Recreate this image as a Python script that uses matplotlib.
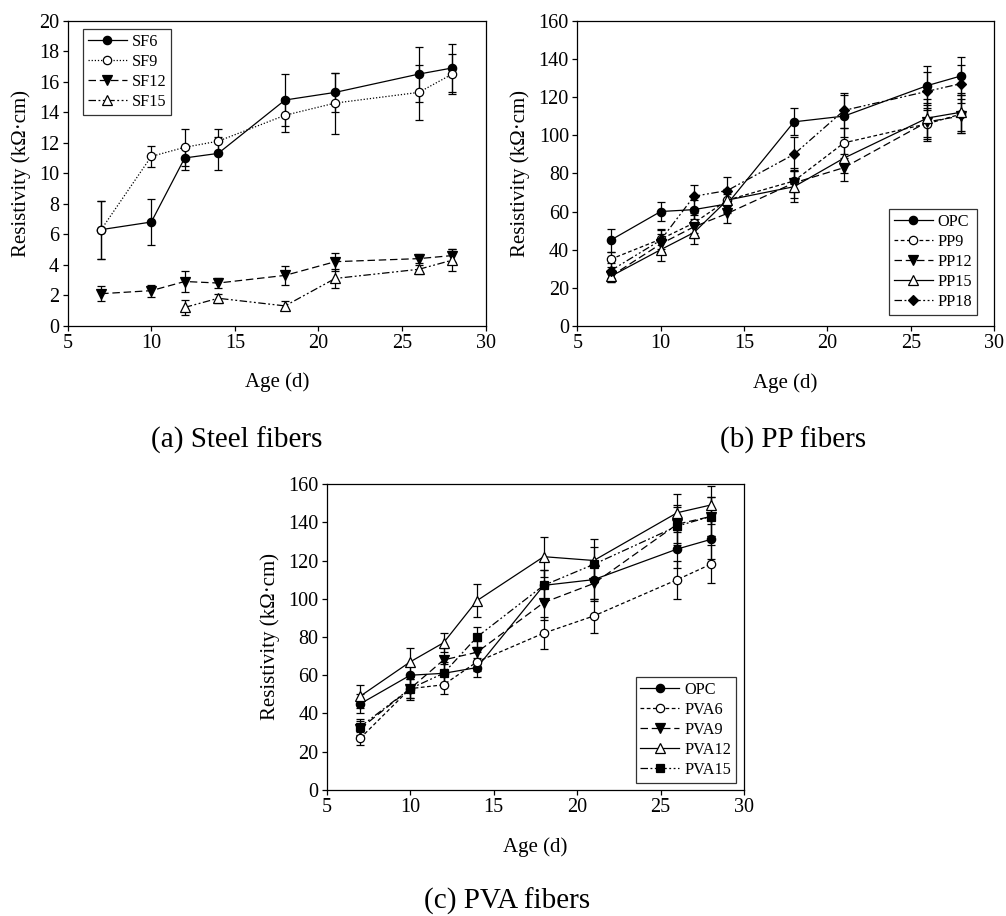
import matplotlib
matplotlib.use('Agg')
import matplotlib.pyplot as plt

plt.rcParams['font.family'] = ['Liberation Serif', 'DejaVu Serif']

# ---------------- data ----------------
ages = [7, 10, 12, 14, 18, 21, 26, 28]
sf15_ages = [12, 14, 18, 21, 26, 28]

# (a) steel fibers
sf6 = [6.3, 6.8, 11.0, 11.3, 14.8, 15.3, 16.5, 16.9]
sf6_err = [1.9, 1.5, 0.8, 1.1, 1.7, 1.3, 1.8, 1.6]
sf9 = [6.3, 11.1, 11.7, 12.1, 13.8, 14.6, 15.3, 16.5]
sf9_err = [1.9, 0.7, 1.2, 0.8, 1.1, 2.0, 1.8, 1.3]
sf12 = [2.1, 2.3, 2.9, 2.8, 3.3, 4.2, 4.4, 4.6]
sf12_err = [0.5, 0.4, 0.7, 0.3, 0.6, 0.6, 0.3, 0.4]
sf15 = [1.2, 1.8, 1.3, 3.1, 3.7, 4.3]
sf15_err = [0.5, 0.3, 0.3, 0.65, 0.3, 0.7]

# (b) PP fibers
opc = [45, 60, 61, 64, 107, 110, 126, 131]
opc_err = [6, 5, 5, 5, 7, 11, 10, 10]
pp9 = [35, 45.5, 54, 66, 76, 96, 106, 111]
pp9_err = [4, 5, 5, 5, 6, 8, 8, 10]
pp12 = [26, 43, 52, 59, 75, 83, 107, 110]
pp12_err = [3, 5, 6, 5, 8, 7, 10, 9]
pp15 = [26, 40, 49, 66, 73, 88, 109, 112]
pp15_err = [3, 6, 6, 6, 8, 8, 10, 10]
pp18 = [29, 45, 68, 71, 90, 113, 123, 127]
pp18_err = [4, 6, 6, 7, 9, 9, 10, 10]

# (c) PVA fibers
opc_c_err = [5, 5, 5, 5, 8, 10, 10, 10]
pva6 = [27, 53, 55, 67, 82, 91, 110, 118]
pva6_err = [3.5, 5, 5, 5, 8.5, 9, 10, 10]
pva9 = [32, 53, 68, 72, 98, 108, 139, 143]
pva9_err = [4, 5, 6, 6, 9, 9, 10, 10]
pva12 = [49, 67, 77, 99, 122, 120, 145, 149]
pva12_err = [6, 7, 5, 8.5, 10.5, 11, 10, 10]
pva15 = [33, 53, 61, 80, 107, 118, 138, 143]
pva15_err = [4, 6, 6, 5, 8, 9, 10, 10]

# ---------------- styles ----------------
SOLID = '-'
DOTTED = (0, (1, 1.5))
LONGDASH = (0, (6, 3))
SHORTDASH = (0, (3, 2))
DASHDOTDOT = (0, (6, 2, 1.5, 2, 1.5, 2))

fig = plt.figure(figsize=(10.06, 9.16), dpi=100)

def style_axes(ax, ymax, ystep):
    ax.set_xlim(5, 30)
    ax.set_ylim(0, ymax)
    ax.set_xticks([5, 10, 15, 20, 25, 30])
    ax.set_yticks(list(range(0, ymax + 1, ystep)))
    ax.tick_params(direction='out', length=3.6, width=0.9, labelsize=14.5, pad=2.5,
                   top=False, right=False)
    for s in ax.spines.values():
        s.set_linewidth(0.9)
    ax.set_xlabel('Age (d)', fontsize=15, labelpad=14)
    ax.set_ylabel('Resistivity (kΩ·cm)', fontsize=15, labelpad=6)

def series(ax, x, y, err, ls, marker, filled, label, ms=6):
    ax.errorbar(x, y, yerr=err, fmt='none', ecolor='black', elinewidth=0.9,
                capsize=3, capthick=0.9, zorder=2)
    line, = ax.plot(x, y, color='black', linestyle=ls, linewidth=0.9,
                    marker=marker, markersize=ms,
                    markerfacecolor='black' if filled else 'white',
                    markeredgecolor='black', markeredgewidth=0.9,
                    label=label, zorder=3)
    return line

def legend(ax, loc, anchor):
    lg = ax.legend(loc=loc, bbox_to_anchor=anchor, fontsize=11.7, frameon=True,
                   fancybox=False, edgecolor='black', handlelength=2.4,
                   handletextpad=0.3, labelspacing=0.25, borderpad=0.3,
                   borderaxespad=0.0)
    lg.get_frame().set_linewidth(0.9)
    return lg

# (a)
axA = fig.add_axes([0.0673, 0.6444, 0.4155, 0.333])
series(axA, ages, sf6, sf6_err, SOLID, 'o', True, 'SF6')
series(axA, ages, sf9, sf9_err, DOTTED, 'o', False, 'SF9')
series(axA, ages, sf12, sf12_err, LONGDASH, 'v', True, 'SF12', ms=6.5)
series(axA, sf15_ages, sf15, sf15_err, DASHDOTDOT, '^', False, 'SF15', ms=6.5)
style_axes(axA, 20, 2)
legend(axA, 'upper left', (0.036, 0.973))

# (b)
axB = fig.add_axes([0.5739, 0.6441, 0.4142, 0.3333])
series(axB, ages, opc, opc_err, SOLID, 'o', True, 'OPC')
series(axB, ages, pp9, pp9_err, SHORTDASH, 'o', False, 'PP9')
series(axB, ages, pp12, pp12_err, LONGDASH, 'v', True, 'PP12', ms=6.5)
series(axB, ages, pp15, pp15_err, SOLID, '^', False, 'PP15', ms=6.5)
series(axB, ages, pp18, pp18_err, DASHDOTDOT, 'D', True, 'PP18', ms=5.5)
style_axes(axB, 160, 20)
legend(axB, 'lower right', (0.959, 0.036))

# (c)
axC = fig.add_axes([0.3248, 0.1376, 0.4148, 0.334])
series(axC, ages, opc, opc_c_err, SOLID, 'o', True, 'OPC')
series(axC, ages, pva6, pva6_err, SHORTDASH, 'o', False, 'PVA6')
series(axC, ages, pva9, pva9_err, LONGDASH, 'v', True, 'PVA9', ms=6.5)
series(axC, ages, pva12, pva12_err, SOLID, '^', False, 'PVA12', ms=6.5)
series(axC, ages, pva15, pva15_err, DASHDOTDOT, 's', True, 'PVA15', ms=5.5)
style_axes(axC, 160, 20)
legend(axC, 'lower right', (0.981, 0.023))

# captions
fig.text(0.2356, 0.5197, '(a) Steel fibers', fontsize=21, ha='center', va='center')
fig.text(0.788, 0.5197, '(b) PP fibers', fontsize=21, ha='center', va='center')
fig.text(0.504, 0.0164, '(c) PVA fibers', fontsize=21, ha='center', va='center')

fig.savefig('out.png', dpi=100)
